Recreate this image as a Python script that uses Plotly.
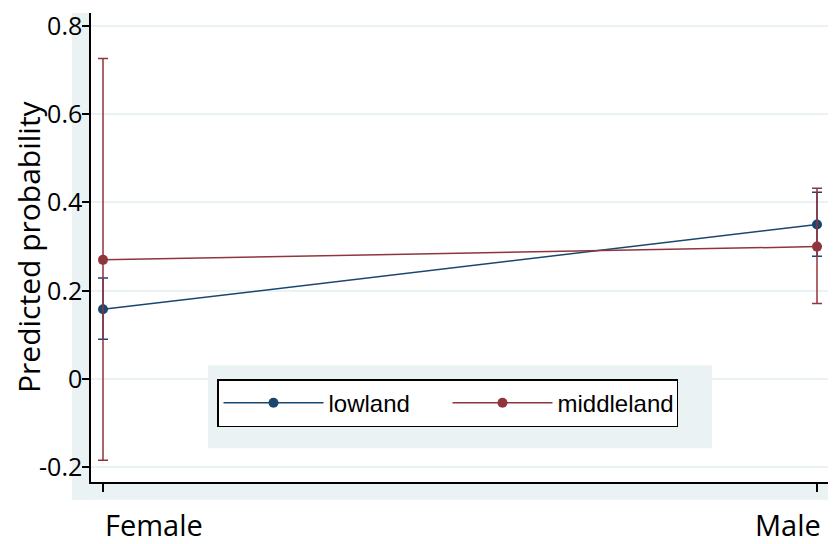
import plotly.graph_objects as go

# ---- data ----
categories = ["Female", "Male"]
series_names = ["lowland", "middleland"]
lowland = [0.158, 0.350]
lowland_lo = [0.090, 0.278]
lowland_hi = [0.229, 0.423]
middleland = [0.270, 0.300]
middleland_lo = [-0.184, 0.171]
middleland_hi = [0.726, 0.432]
ytick_vals = [-0.2, 0, 0.2, 0.4, 0.6, 0.8]
ytick_text = ["-0.2", "0", "0.2", "0.4", "0.6", "0.8"]
y_title = "Predicted probability"

colors = ["#1a476f", "#90353b"]
PANEL = "#eaf2f3"
W, H = 828, 536           # page body has an 8px margin
L, R, T, B = 83, 5, 0, 62
pw, ph = W - L - R, H - T - B


def px_x(p):   # screen pixel -> paper coordinate
    return (p - 8 - L) / pw


def px_y(p):
    return (H - B - (p - 8)) / ph


xpos = list(range(len(categories)))

fig = go.Figure()
for name, vals, lo, hi, col in [
    (series_names[0], lowland, lowland_lo, lowland_hi, colors[0]),
    (series_names[1], middleland, middleland_lo, middleland_hi, colors[1]),
]:
    fig.add_trace(go.Scatter(
        x=xpos, y=vals, name=name, mode="lines+markers",
        line=dict(color=col, width=1.5),
        marker=dict(color=col, size=10, symbol="circle"),
        error_y=dict(type="data", symmetric=False,
                     array=[h - v for h, v in zip(hi, vals)],
                     arrayminus=[v - l for l, v in zip(lo, vals)],
                     color=col, thickness=1.5, width=5),
    ))

# outer light panel (strips around the white plot area)
for x0, x1, y0, y1 in [(72, 91, 8, 500), (72, 836, 482, 500), (831, 836, 8, 500)]:
    fig.add_shape(type="rect", xref="paper", yref="paper",
                  x0=px_x(x0), x1=px_x(x1), y0=px_y(y1), y1=px_y(y0),
                  fillcolor=PANEL, line=dict(width=0), layer="below")
# legend outer box
fig.add_shape(type="rect", xref="paper", yref="paper",
              x0=px_x(208), x1=px_x(712), y0=px_y(448), y1=px_y(364),
              fillcolor=PANEL, line=dict(width=0), layer="above")

# category labels
fig.add_annotation(x=0, y=px_y(525), xref="x", yref="paper", text=categories[0],
                   showarrow=False, xanchor="left", yanchor="middle",
                   font=dict(size=29, color="#000000"))
fig.add_annotation(x=1, y=px_y(525), xref="x", yref="paper", text=categories[1],
                   showarrow=False, xanchor="right", yanchor="middle", xshift=6,
                   font=dict(size=29, color="#000000"))
# y-axis title
fig.add_annotation(x=px_x(28.5), y=px_y(244), xref="paper", yref="paper", text=y_title,
                   showarrow=False, textangle=-90, xanchor="center", yanchor="middle",
                   font=dict(size=30, color="#000000"))

fig.update_layout(
    width=W, height=H,
    margin=dict(l=L, r=R, t=T, b=B, pad=0),
    paper_bgcolor="white", plot_bgcolor="white",
    font=dict(family="Open Sans, sans-serif", color="#000000"),
    showlegend=True,
    legend=dict(orientation="h", x=px_x(217), y=px_y(378), xanchor="left", yanchor="top",
                bgcolor="white", bordercolor="black", borderwidth=1.5,
                font=dict(family="Liberation Sans, Arial, sans-serif", size=24),
                itemwidth=100, entrywidth=114, entrywidthmode="pixels"),
    xaxis=dict(range=[-0.0168, 1.0196], tickvals=xpos, showticklabels=False,
               ticks="outside", ticklen=8, tickwidth=1.5, tickcolor="black",
               showline=True, linecolor="black", linewidth=1.5, showgrid=False,
               zeroline=False, mirror=False),
    yaxis=dict(range=[-0.233, 0.829], tickvals=ytick_vals, ticktext=ytick_text,
               ticks="outside", ticklen=7, tickwidth=1.5, tickcolor="black",
               tickfont=dict(size=25), ticklabelstandoff=-5, ticklabeloverflow="allow",
               showline=True, linecolor="black", linewidth=1.5,
               showgrid=True, gridcolor=PANEL, gridwidth=1.5, zeroline=False),
)

fig.write_html("out.html")
